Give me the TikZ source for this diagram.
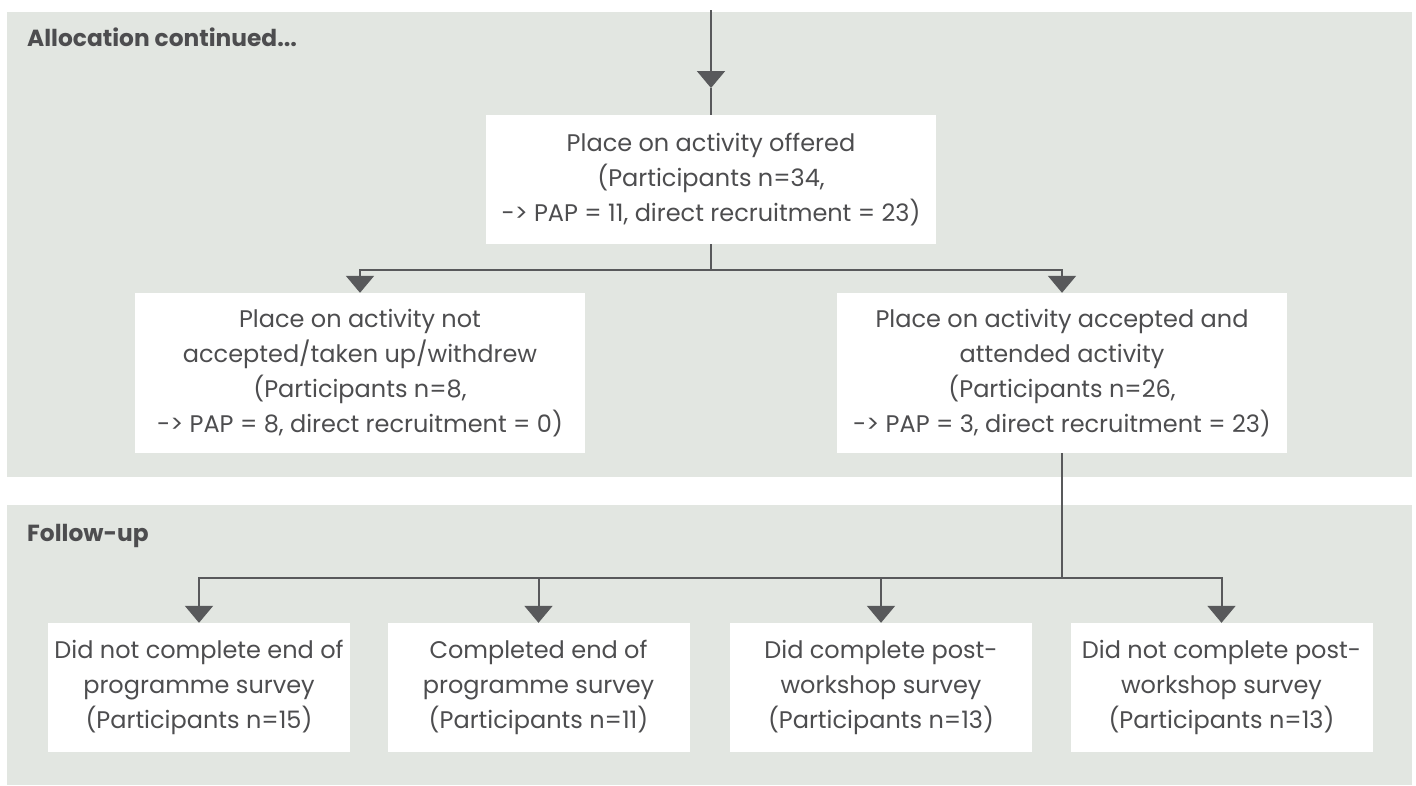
\documentclass[tikz,border=0pt]{standalone}
\usepackage{fontspec}
\setmainfont{Poppins}
\usetikzlibrary{arrows.meta}
\definecolor{panelgrey}{RGB}{226,230,225}
\definecolor{linegrey}{RGB}{88,89,91}
\definecolor{textgrey}{RGB}{77,77,79}
\tikzset{
  panel/.style={fill=panelgrey, draw=none},
  stagebox/.style={fill=white, draw=none, align=center, text=textgrey, inner sep=0pt,
    font=\fontsize{24}{35}\selectfont},
  heading/.style={anchor=base west, text=textgrey, inner sep=0pt,
    font=\fontsize{23.3}{28}\selectfont\bfseries},
  link/.style={draw=linegrey, line width=2pt},
  flow/.style={link, -{Triangle[width=28pt,length=17pt]}},
}
\begin{document}
\begin{tikzpicture}[x=1pt,y=-1pt]
        \useasboundingbox (0,0) rectangle (1416,785);
        %panels
        \fill[panel] (7,12) rectangle (1412,477);
        \fill[panel] (7,505) rectangle (1412,785);
        \node[heading] (alloc) at (27,46) {Allocation continued...};
        \node[heading] (follow) at (27,541) {Follow-up};

        %allocation
        \node[stagebox, minimum width=450pt, minimum height=129pt] (offer) at (711,179.5)
            {Place on activity offered\\(Participants n=34,\\-> PAP = 11, direct recruitment = 23)};
        \node[stagebox, minimum width=450pt, minimum height=160pt] (notacc) at (360,373)
            {Place on activity not\\accepted/taken up/withdrew\\(Participants n=8,\\-> PAP = 8, direct recruitment = 0)};
        \node[stagebox, minimum width=450pt, minimum height=160pt] (acc) at (1062,373)
            {Place on activity accepted and\\attended activity\\(Participants n=26,\\-> PAP = 3, direct recruitment = 23)};

        %follow-up
        \node[stagebox, minimum width=302pt, minimum height=129pt] (endno) at (199,687.5)
            {Did not complete end of\\programme survey\\(Participants n=15)};
        \node[stagebox, minimum width=302pt, minimum height=129pt] (endyes) at (538.5,687.5)
            {Completed end of\\programme survey\\(Participants n=11)};
        \node[stagebox, minimum width=302pt, minimum height=129pt] (postyes) at (881,687.5)
            {Did complete post-\\workshop survey\\(Participants n=13)};
        \node[stagebox, minimum width=302pt, minimum height=129pt] (postno) at (1221.5,687.5)
            {Did not complete post-\\workshop survey\\(Participants n=13)};

        %connectors
        \coordinate (in) at (711,10);
        \coordinate (intip) at (711,88);
        \coordinate (split) at (711,270);
        \coordinate (fork) at (1062,578);
        \draw[flow] (in) -- (intip);
        \draw[link] (intip) -- (offer.north);
        \draw[link] (offer.south) -- (split);
        \draw[flow] (split) -| (notacc.north);
        \draw[flow] (split) -| (acc.north);
        \draw[link] (acc.south) -- (fork);
        \foreach \b in {endno,endyes,postyes,postno}
            \draw[flow] (fork) -| (\b.north);
    \end{tikzpicture}
\end{document}
